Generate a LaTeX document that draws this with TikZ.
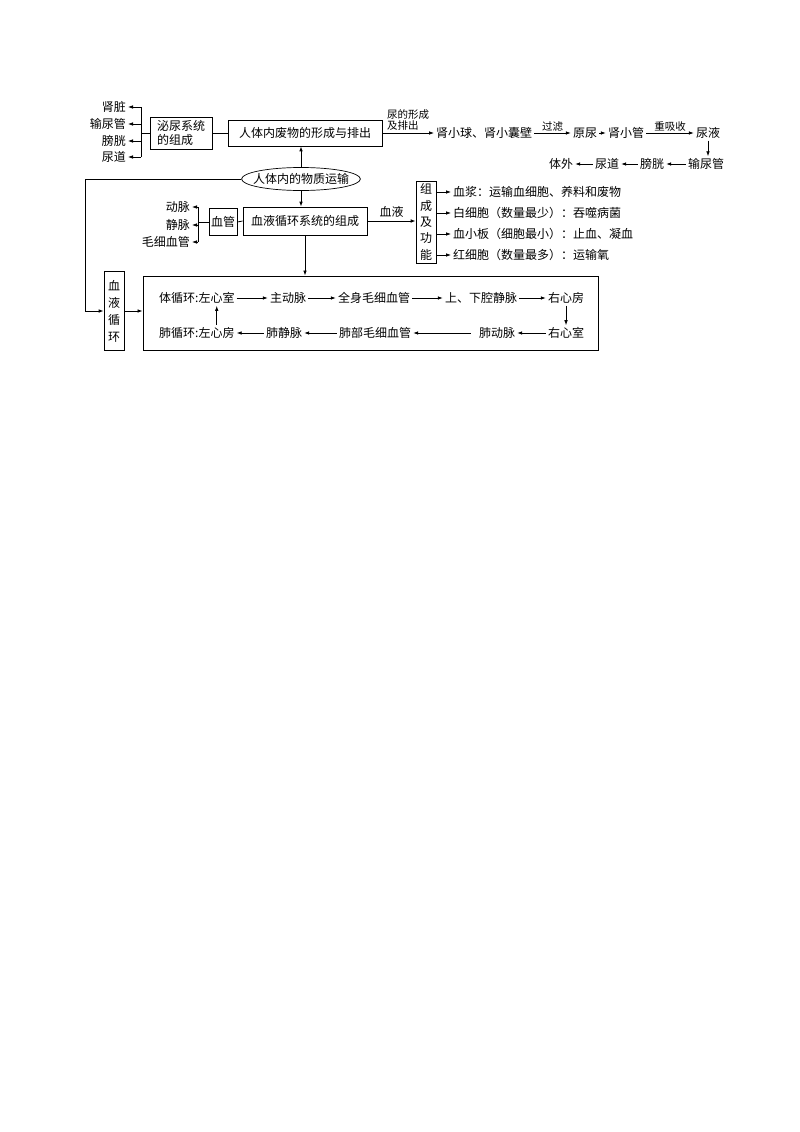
\documentclass[tikz,border=0pt]{standalone}
\usepackage{fontspec}
\setmainfont{Noto Sans CJK SC}
\usetikzlibrary{arrows.meta,shapes.geometric}
\begin{document}
\begin{tikzpicture}[x=1pt,y=-1pt,
  every node/.style={font=\fontsize{12}{14}\selectfont, inner sep=2pt},
  box/.style={draw, line width=0.7pt, inner sep=2pt},
  arr/.style={-{Latex[length=5pt,width=3.6pt]}, line width=0.8pt},
  ln/.style={line width=0.8pt},
  lbl/.style={font=\fontsize{10.5}{11.5}\selectfont, inner sep=1pt},
  vtext/.style={box, align=center, inner sep=1pt, font=\fontsize{12}{16.4}\selectfont}]
\useasboundingbox (0,0) rectangle (800,1132);

% ---------- top: urinary system ----------
\node[anchor=east] (k1) at (128,107) {肾脏};
\node[anchor=east] (k2) at (128,124) {输尿管};
\node[anchor=east] (k3) at (128,141) {膀胱};
\node[anchor=east] (k4) at (128,157) {尿道};
\node[box, align=left, minimum width=62, minimum height=32] (mny) at (181,133) {泌尿系统\\的组成};
\coordinate (bk) at (141,133);
\draw[ln] (mny.west) -- (bk);
\draw[ln] (bk|-k1) -- (bk|-k4);
\foreach \k in {k1,k2,k3,k4} \draw[arr] (bk|-\k) -- (\k.east);

\node[box, minimum width=154, minimum height=26] (waste) at (305,133) {人体内废物的形成与排出};
\draw[ln] (mny.east) -- (waste.west);

\node[draw, ellipse, line width=0.7pt, inner xsep=-6pt, inner ysep=0pt, minimum width=118, minimum height=23] (trans) at (301,179) {人体内的物质运输};
\draw[arr] (trans.north) -- (trans.north|-waste.south);

% ---------- top right chain ----------
\node[anchor=west] (glom) at (434,133) {肾小球、肾小囊壁};
\node (yuan) at (585,133) {原尿};
\node (tube) at (626,133) {肾小管};
\node (urine) at (708,133) {尿液};
\node (ureter) at (706,164) {输尿管};
\node (blad) at (652,164) {膀胱};
\node (ure) at (607,164) {尿道};
\node (outb) at (561,164) {体外};

\draw[arr] (waste.east) -- (waste.east-|glom.west) node[lbl, midway, above=1pt, align=left] (lform) {尿的形成\\及排出};
\draw[arr] (glom.east) -- (yuan.west) node[lbl, midway, above] (lfil) {过滤};
\draw[arr] (yuan.east) -- (tube.west);
\draw[arr] (tube.east) -- (urine.west) node[lbl, midway, above] (lre) {重吸收};
\draw[arr] (urine.south) -- (urine.south|-ureter.north);
\draw[arr] (ureter.west) -- (blad.east);
\draw[arr] (blad.west) -- (ure.east);
\draw[arr] (ure.west) -- (outb.east);

% ---------- middle: circulatory system ----------
\node[box, minimum width=124, minimum height=28] (sys) at (305,221) {血液循环系统的组成};
\draw[arr] (trans.south) -- (trans.south|-sys.north);

\node[box, minimum width=28, minimum height=27] (vessel) at (223,222) {血管};
\draw[ln] (vessel.east) -- (sys.west);
\node[anchor=east] (a1) at (192,207) {动脉};
\node[anchor=east] (a2) at (192,225) {静脉};
\node[anchor=east] (a3) at (192,242) {毛细血管};
\coordinate (vb) at (198,222);
\draw[ln] (vessel.west) -- (vb);
\draw[ln] (vb|-a1) -- (vb|-a3);
\foreach \a in {a1,a2,a3} \draw[arr] (vb|-\a) -- (\a.east);

\node[vtext, minimum width=20, minimum height=82] (comp) at (426,222) {组\\成\\及\\功\\能};
\draw[arr] (sys.east) -- (sys.east-|comp.west) node[midway, above=1pt] (lblood) {血液};

\node[anchor=west] (c1) at (451,192) {血浆：运输血细胞、养料和废物};
\node[anchor=west] (c2) at (451,213) {白细胞（数量最少）：吞噬病菌};
\node[anchor=west] (c3) at (451,234) {血小板（细胞最小）：止血、凝血};
\node[anchor=west] (c4) at (451,255) {红细胞（数量最多）：运输氧};
\foreach \c in {c1,c2,c3,c4} \draw[arr] (comp.east|-\c) -- (\c.west);

% ---------- bottom: blood circulation ----------
\node[box, line width=1pt, minimum width=455, minimum height=74] (big) at (370.5,313) {};
\draw[arr] (sys.south) -- (sys.south|-big.north);

\node[vtext, minimum width=20, minimum height=79, font=\fontsize{12}{17}\selectfont] (xh) at (114,311) {血\\液\\循\\环};
\coordinate (lc) at (85,179);
\draw[arr] (trans.west) -- (lc) |- (xh.west);
\draw[arr] (xh.east) -- (xh.east-|big.west);

\node[anchor=west] (l1) at (157,298) {体循环:左心室};
\node (ao) at (288,298) {主动脉};
\node (cap1) at (374,298) {全身毛细血管};
\node (vc) at (481,298) {上、下腔静脉};
\node (ra) at (566,298) {右心房};

\node[anchor=west] (l2) at (157,333) {肺循环:左心房};
\node (pv) at (284,333) {肺静脉};
\node (cap2) at (375,333) {肺部毛细血管};
\node (pa) at (497,333) {肺动脉};
\node (rv) at (566,333) {右心室};

\draw[arr] (l1.east) -- (ao.west);
\draw[arr] (ao.east) -- (cap1.west);
\draw[arr] (cap1.east) -- (vc.west);
\draw[arr] (vc.east) -- (ra.west);
\draw[arr] (ra.south) -- (rv.north);
\draw[arr] (rv.west) -- (pa.east);
\draw[arr, shorten <=6pt] (pa.west) -- (cap2.east);
\draw[arr] (cap2.west) -- (pv.east);
\draw[arr] (pv.west) -- (l2.east);
\draw[arr] ([xshift=-20pt]l2.north east) -- ([xshift=-20pt]l1.south east);
\end{tikzpicture}
\end{document}
